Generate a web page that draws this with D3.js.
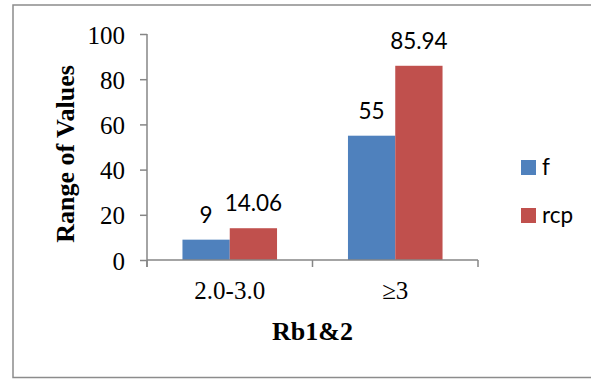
<!DOCTYPE html>
<html>
<head>
<meta charset="utf-8">
<script src="https://cdn.jsdelivr.net/npm/d3@7"></script>
<style>
  html, body { margin: 0; padding: 0; background: #fff; }
  svg { display: block; }
</style>
</head>
<body>
<svg id="chart" width="591" height="379"></svg>
<script>
// Chart data
const categories = ["2.0-3.0", "\u22653"];
const seriesNames = ["f", "rcp"];
const fValues = [9, 55];
const rcpValues = [14.06, 85.94];
const yTicks = [0, 20, 40, 60, 80, 100];
const colors = ["#4F81BD", "#C0504D"];

const values = [fValues, rcpValues];
const svg = d3.select("#chart");
const serif = "'Liberation Serif', 'Times New Roman', serif";
const sans = "Lato, 'Open Sans', sans-serif";

// Outer frame
svg.append("rect")
  .attr("x", 13).attr("y", 5)
  .attr("width", 600).attr("height", 372.5)
  .attr("fill", "#fff")
  .attr("stroke", "#8c8c8c").attr("stroke-width", 1.5);

const plot = { left: 147, right: 478, top: 34, bottom: 260 };

const y = d3.scaleLinear().domain([0, 100]).range([plot.bottom, plot.top]);
const x0 = d3.scaleBand().domain(categories).range([plot.left, plot.right]).paddingInner(0).paddingOuter(0);
const x1 = d3.scaleBand().domain(seriesNames).range([0, x0.bandwidth()]).paddingInner(0).paddingOuter(0.75);

const axisColor = "#868686";

// Bars and their value labels
seriesNames.forEach((s, si) => {
  const rows = categories.map((c, ci) => ({ c, v: values[si][ci] }));
  svg.append("g").selectAll("rect")
    .data(rows)
    .join("rect")
    .attr("x", d => x0(d.c) + x1(s))
    .attr("y", d => y(d.v))
    .attr("width", x1.bandwidth())
    .attr("height", d => y(0) - y(d.v))
    .attr("fill", colors[si]);

  svg.append("g").selectAll("text")
    .data(rows)
    .join("text")
    .attr("x", d => x0(d.c) + x1(s) + x1.bandwidth() / 2)
    .attr("y", d => y(d.v) - 17)
    .attr("text-anchor", "middle")
    .attr("font-family", sans)
    .attr("font-size", 22.5)
    .attr("fill", "#000")
    .text(d => d.v);
});

// Y axis
const yAxis = d3.axisLeft(y).tickValues(yTicks).tickSize(7).tickPadding(15).tickFormat(d3.format("d"));
const gy = svg.append("g").attr("transform", `translate(${plot.left},0)`).call(yAxis);
gy.select(".domain").remove();
gy.selectAll(".tick line").attr("stroke", axisColor).attr("stroke-width", 1.5);
gy.selectAll(".tick text")
  .attr("font-family", serif)
  .attr("font-size", 25).attr("fill", "#000").attr("dy", "0.36em");
svg.append("line")
  .attr("x1", plot.left).attr("x2", plot.left)
  .attr("y1", plot.top).attr("y2", plot.bottom + 7)
  .attr("stroke", axisColor).attr("stroke-width", 1.5);

// X axis
svg.append("line")
  .attr("x1", plot.left).attr("x2", plot.right)
  .attr("y1", plot.bottom).attr("y2", plot.bottom)
  .attr("stroke", axisColor).attr("stroke-width", 1.5);
const boundaries = categories.map(c => x0(c)).concat([plot.right]);
svg.append("g").selectAll("line").data(boundaries).join("line")
  .attr("x1", d => d).attr("x2", d => d)
  .attr("y1", plot.bottom).attr("y2", plot.bottom + 7)
  .attr("stroke", axisColor).attr("stroke-width", 1.5);
svg.append("g").selectAll("text").data(categories).join("text")
  .attr("x", d => x0(d) + x0.bandwidth() / 2)
  .attr("y", 299)
  .attr("text-anchor", "middle")
  .attr("font-family", serif)
  .attr("font-size", 25).attr("fill", "#000")
  .text(d => d);

// Axis titles
svg.append("text")
  .attr("x", (plot.left + plot.right) / 2).attr("y", 340)
  .attr("text-anchor", "middle")
  .attr("font-family", serif)
  .attr("font-weight", "bold").attr("font-size", 26).attr("fill", "#000")
  .text("Rb1&2");
svg.append("text")
  .attr("transform", `translate(74,${(plot.top + plot.bottom) / 2 + 7}) rotate(-90)`)
  .attr("text-anchor", "middle")
  .attr("font-family", serif)
  .attr("font-weight", "bold").attr("font-size", 26).attr("fill", "#000")
  .text("Range of Values");

// Legend
const legend = svg.append("g").selectAll("g").data(seriesNames).join("g")
  .attr("transform", (d, i) => `translate(521,${160 + i * 48})`);
legend.append("rect").attr("width", 15).attr("height", 15).attr("fill", (d, i) => colors[i]);
legend.append("text")
  .attr("x", 21).attr("y", 15)
  .attr("font-family", sans)
  .attr("font-size", 22.5).attr("fill", "#000")
  .text(d => d);
</script>
</body>
</html>
